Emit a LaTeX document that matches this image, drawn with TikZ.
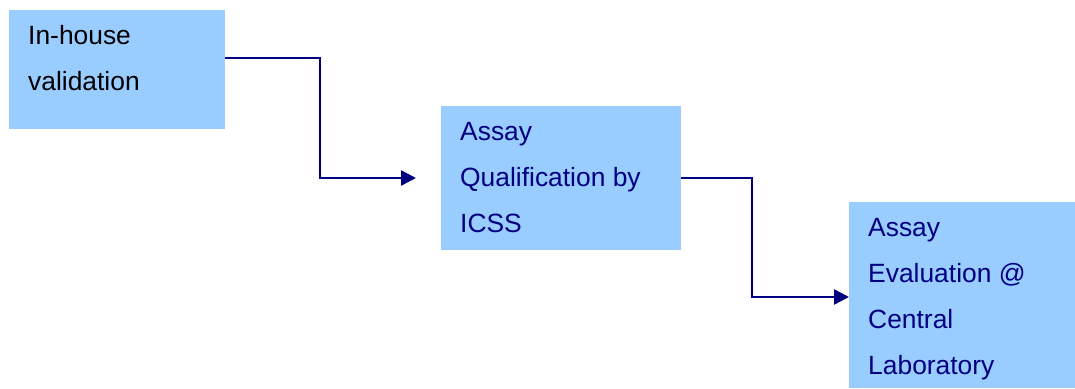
\documentclass[tikz,border=0pt]{standalone}
\usepackage{fontspec}
\setmainfont{Liberation Sans}
\usetikzlibrary{arrows.meta}
\definecolor{boxfill}{HTML}{99CCFF}
\definecolor{navy}{HTML}{000080}
\tikzset{
  box/.style={rectangle, fill=boxfill, draw=none, inner sep=0pt, anchor=north west},
  txt/.style={anchor=base west, inner sep=0pt},
  conn/.style={draw=navy, line width=2.5pt, -{Triangle[length=15pt, width=15pt]}}
}
\newcommand{\lines}[1]{\parbox[t]{400pt}{\raggedright\fontsize{26.4pt}{46pt}\selectfont #1}}
\begin{document}
\begin{tikzpicture}[x=1pt, y=-1pt]
\useasboundingbox (0,0) rectangle (1075,388);
\node[box, minimum width=216pt, minimum height=119pt] (b1) at (9,10) {};
\node[box, minimum width=240pt, minimum height=144pt] (b2) at (441,106) {};
\node[box, minimum width=226pt, minimum height=186pt] (b3) at (849,202) {};
\node[txt, text=black] (t1) at (28,44) {\lines{In-house\\validation}};
\node[txt, text=navy] (t2) at (460,140) {\lines{Assay\\Qualification by\\ICSS}};
\node[txt, text=navy] (t3) at (868,236) {\lines{Assay\\Evaluation @\\Central\\Laboratory}};
\coordinate (e1) at (416,178);
\coordinate (e2) at (849,297);
\draw[conn] ([yshift=11.5pt]b1.east) -| (320,178) -- (e1);
\draw[conn] (b2.east) -| (752,297) -- (e2);
\end{tikzpicture}
\end{document}
